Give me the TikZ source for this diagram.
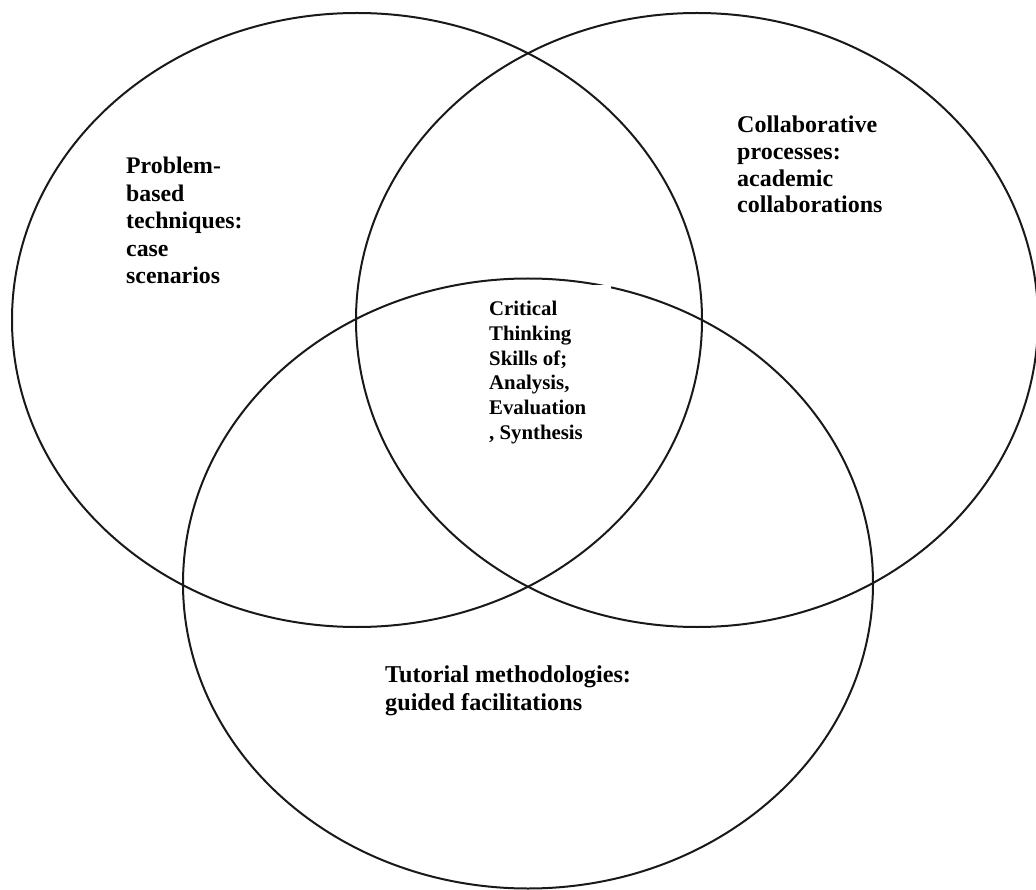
\documentclass[tikz,border=0pt]{standalone}
\usepackage{fontspec}
\setmainfont{Liberation Serif}
\begin{document}
\begin{tikzpicture}[x=1pt,y=-1pt,
  ring/.style={draw=black!90, line width=2pt},
  lbl/.style={anchor=north west, inner sep=0pt, align=left, font=\bfseries\fontsize{23.8}{27.5}\selectfont},
  smalllbl/.style={anchor=north west, inner sep=0pt, align=left, font=\bfseries\fontsize{20.8}{24.7}\selectfont}]
\useasboundingbox (0,0) rectangle (1036,890);
\clip (0,0) rectangle (1036,890);
\draw[ring] (357,320) ellipse [x radius=345, y radius=307];
\draw[ring] (697,320) ellipse [x radius=341, y radius=307];
\draw[ring] (528,583.5) ellipse [x radius=345, y radius=305];
\fill[white] (480,285.5) rectangle (611,450);
\node[lbl] (pb) at (126,157) {Problem-\\based\\techniques:\\case\\scenarios};
\node[lbl, font=\bfseries\fontsize{24}{26.7}\selectfont] (cp) at (737,116) {Collaborative\\processes:\\academic\\collaborations};
\node[lbl, font=\bfseries\fontsize{24.2}{28}\selectfont] (tm) at (385,666) {Tutorial methodologies:\\guided facilitations};
\node[smalllbl] (ct) at (489,301) {Critical\\Thinking\\Skills of;\\Analysis,\\Evaluation\\, Synthesis};
\end{tikzpicture}
\end{document}
